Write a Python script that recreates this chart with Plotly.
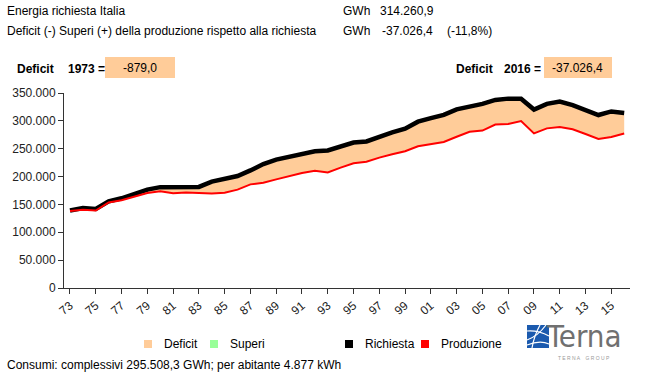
import plotly.graph_objects as go

# ---------------- data ----------------
years = list(range(1973, 2017))
richiesta = [
    139100, 143500, 142000, 155500, 161000, 168500, 176500, 181000, 180500, 180000,
    181500, 191000, 196000, 201000, 211000, 222500, 230500, 235100, 241100, 245500,
    246800, 254000, 261000, 263000, 271400, 279300, 285800, 298500, 304800, 310700,
    320700, 325400, 330400, 337500, 339900, 339500, 320300, 330500, 334600, 328200,
    318500, 310500, 316900, 314260.9,
]
produzione = [
    138221, 140500, 139000, 153500, 157500, 164500, 170500, 173500, 170000, 171500,
    170500, 169500, 171000, 176500, 186000, 189000, 195000, 201000, 206500, 210500,
    207500, 216000, 224000, 226500, 234000, 240000, 245500, 254500, 258000, 262000,
    271500, 280500, 282500, 293500, 294500, 299500, 277500, 286500, 289000, 285000,
    276500, 267500, 271000, 277234.5,
]
tick_years = list(range(1973, 2016, 2))
tick_labels = [f"{y % 100:02d}" for y in tick_years]
y_ticks = [0, 50000, 100000, 150000, 200000, 250000, 300000, 350000]

header_title = "Energia richiesta Italia"
header_sub = "Deficit (-) Superi (+) della produzione rispetto alla richiesta"
richiesta_tot = "314.260,9"
deficit_tot = "-37.026,4"
deficit_pct = "(-11,8%)"
deficit_first = "-879,0"
deficit_last = "-37.026,4"
consumi_text = "Consumi: complessivi 295.508,3 GWh; per abitante 4.877 kWh"

# ---------------- layout helpers ----------------
W, H = 648, 376
L, R, T, B = 64, 630, 93, 288
FONT = "Arial, 'Liberation Sans', sans-serif"


def px(x):
    return (x - L) / (R - L)


def py(y):
    return (B - y) / (B - T)


fig = go.Figure()

# deficit fill between production and demand
fig.add_trace(go.Scatter(x=years, y=produzione, mode="lines", line=dict(width=0, color="rgba(0,0,0,0)"),
                         hoverinfo="skip", showlegend=False))
fig.add_trace(go.Scatter(x=years, y=richiesta, mode="lines", line=dict(width=0, color="rgba(0,0,0,0)"),
                         fill="tonexty", fillcolor="#FFCC99", hoverinfo="skip", showlegend=False))
# lines
fig.add_trace(go.Scatter(x=years, y=richiesta, mode="lines", line=dict(width=4.5, color="#000000"),
                         name="Richiesta", showlegend=False))
fig.add_trace(go.Scatter(x=years, y=produzione, mode="lines", line=dict(width=2, color="#FF0000"),
                         name="Produzione", showlegend=False))

annotations = []
shapes = []


def text(x, y, s, size=12, bold=False, anchor="left", color="#000000", family=FONT):
    annotations.append(dict(
        x=px(x), y=py(y), xref="paper", yref="paper", text=f"<b>{s}</b>" if bold else s,
        showarrow=False, xanchor=anchor, yanchor="middle",
        font=dict(family=family, size=size, color=color),
    ))


def rect(x0, y0, x1, y1, color, line_color=None):
    shapes.append(dict(
        type="rect", xref="paper", yref="paper",
        x0=px(x0), x1=px(x1), y0=py(y1), y1=py(y0),
        fillcolor=color, line=dict(width=0 if line_color is None else 1, color=line_color or color),
        layer="above",
    ))


# header
text(5, 11, header_title)
text(5, 31, header_sub)
text(341, 11, "GWh")
text(378, 11, richiesta_tot)
text(341, 31, "GWh")
text(380, 31, deficit_tot)
text(445, 31, deficit_pct)

# deficit boxes
text(15, 69, "Deficit", bold=True)
text(66, 69, "1973 =", bold=True)
rect(105, 57, 175, 78, "#FFCC99")
text(140, 68, deficit_first, anchor="center")

text(454, 69, "Deficit", bold=True)
text(502, 69, "2016 =", bold=True)
rect(544, 57, 612, 78, "#FFCC99")
text(577, 68, deficit_last, anchor="center")

# custom legend
legend_items = [(144, "#FFCC99", "Deficit"), (210, "#99FF99", "Superi"),
                (345, "#000000", "Richiesta"), (421, "#FF0000", "Produzione")]
for lx, col, lab in legend_items:
    rect(lx, 340, lx + 8, 348, col)
    text(lx + 18, 344, lab)

# footer
text(5, 365, consumi_text)

# Terna logo
rect(527, 325, 549, 348, "#1B5AAE")
for path in [
    "M {} {} Q {} {} {} {}".format(px(527), py(331), px(538), py(330), px(549), py(336)),
    "M {} {} Q {} {} {} {}".format(px(527), py(340), px(538), py(336), px(546), py(325)),
    "M {} {} Q {} {} {} {}".format(px(532), py(348), px(534), py(336), px(540), py(325)),
    "M {} {} Q {} {} {} {}".format(px(527), py(345), px(540), py(340), px(549), py(344)),
]:
    shapes.append(dict(type="path", xref="paper", yref="paper", path=path,
                       line=dict(color="white", width=1.2), layer="above"))
text(584, 336, "Terna", size=31, color="#707070", anchor="center",
     family="'Liberation Sans Narrow', 'DejaVu Sans Condensed', Arial, sans-serif")
text(584, 358, "T E R N A    G R O U P", size=5, color="#9a9a9a", anchor="center")

fig.update_layout(
    width=W, height=H,
    margin=dict(l=L, r=W - R, t=T, b=H - B, pad=0),
    paper_bgcolor="white", plot_bgcolor="white",
    showlegend=False,
    separators=",.",
    font=dict(family=FONT, size=12, color="#222222"),
    annotations=annotations,
    shapes=shapes,
    xaxis=dict(
        range=[1972.535, 2016.45], tickmode="array", tickvals=tick_years, ticktext=tick_labels,
        tickangle=-40, ticks="outside", ticklen=5, tickcolor="#333333",
        showline=True, linecolor="#333333", linewidth=1, showgrid=False, zeroline=False,
        automargin=False, tickfont=dict(size=12, color="#222222"),
    ),
    yaxis=dict(
        range=[0, 350000], tickmode="array", tickvals=y_ticks, tickformat=",.0f",
        ticks="outside", ticklen=5, tickcolor="#333333",
        showline=True, linecolor="#333333", linewidth=1, showgrid=False, zeroline=False,
        automargin=False, tickfont=dict(size=12, color="#222222"),
    ),
)

fig.write_html(
    "out.html",
    config={"displayModeBar": False},
    post_script="document.body.style.margin='0';document.body.style.overflow='hidden';",
)
